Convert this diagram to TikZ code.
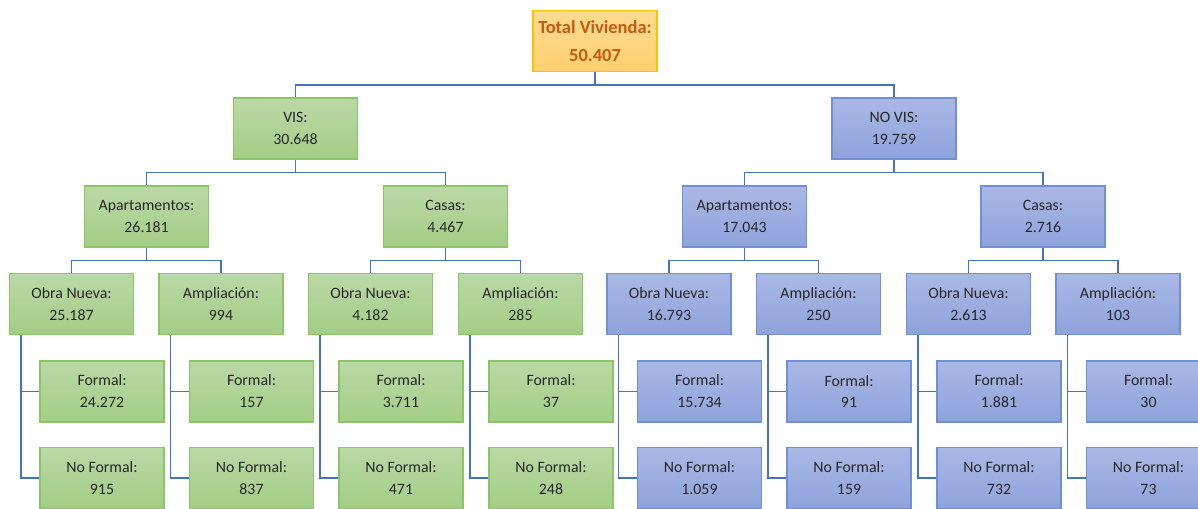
\documentclass[tikz,border=0pt]{standalone}
\usepackage{fontspec}
\setmainfont{Carlito}
\usetikzlibrary{positioning,calc}
\definecolor{greentop}{RGB}{186,217,166}
\definecolor{greenbot}{RGB}{163,206,133}
\definecolor{greenline}{RGB}{140,196,104}
\definecolor{bluetop}{RGB}{170,184,229}
\definecolor{bluebot}{RGB}{142,163,220}
\definecolor{blueline}{RGB}{112,143,212}
\definecolor{orangetop}{RGB}{255,219,145}
\definecolor{orangebot}{RGB}{255,208,112}
\definecolor{orangeline}{RGB}{255,192,0}
\definecolor{totaltext}{RGB}{197,90,17}
\definecolor{connblue}{RGB}{68,114,196}
\tikzset{
  box/.style={draw, minimum width=2.48cm, minimum height=1.22cm, inner sep=1pt,
    align=center, text=black!85, font=\fontsize{9}{12.5}\selectfont, line width=0.6pt},
  visbox/.style={box, draw=greenline, top color=greentop, bottom color=greenbot},
  novisbox/.style={box, draw=blueline, top color=bluetop, bottom color=bluebot},
  totbox/.style={box, draw=orangeline, top color=orangetop, bottom color=orangebot,
    text=totaltext, font=\bfseries\fontsize{10.5}{16}\selectfont},
  conn/.style={draw=connblue, line width=1.1pt}
}
\begin{document}
\begin{tikzpicture}[x=0.02cm,y=-0.02cm]
        \useasboundingbox (0,0) rectangle (1198,508);

        % top
        \node [totbox] (tot) at (595,41) {Total Vivienda:\\50.407};
        \node [visbox] (vis) at (295.5,128.5) {VIS:\\30.648};
        \node [novisbox] (novis) at (894,128.5) {NO VIS:\\19.759};

        % VIS
        \node [visbox] (vapt) at (146.5,216.5) {Apartamentos:\\26.181};
        \node [visbox] (vcas) at (445.5,216.5) {Casas:\\4.467};
        \node [visbox] (vapton) at (71.5,304) {Obra Nueva:\\25.187};
        \node [visbox] (vaptam) at (221,304) {Ampliación:\\994};
        \node [visbox] (vcason) at (370.5,304) {Obra Nueva:\\4.182};
        \node [visbox] (vcasam) at (520.5,304) {Ampliación:\\285};
        \node [visbox] (vaptonf) at (102,391.5) {Formal:\\24.272};
        \node [visbox] (vaptonnf) at (102,478) {No Formal:\\915};
        \node [visbox] (vaptamf) at (251.5,391.5) {Formal:\\157};
        \node [visbox] (vaptamnf) at (251.5,478) {No Formal:\\837};
        \node [visbox] (vcasonf) at (401,391.5) {Formal:\\3.711};
        \node [visbox] (vcasonnf) at (401,478) {No Formal:\\471};
        \node [visbox] (vcasamf) at (551,391.5) {Formal:\\37};
        \node [visbox] (vcasamnf) at (551,478) {No Formal:\\248};

        % NO VIS
        \node [novisbox] (napt) at (744.5,216.5) {Apartamentos:\\17.043};
        \node [novisbox] (ncas) at (1043,216.5) {Casas:\\2.716};
        \node [novisbox] (napton) at (669,304) {Obra Nueva:\\16.793};
        \node [novisbox] (naptam) at (818.5,304) {Ampliación:\\250};
        \node [novisbox] (ncason) at (968.5,304) {Obra Nueva:\\2.613};
        \node [novisbox] (ncasam) at (1118,304) {Ampliación:\\103};
        \node [novisbox] (naptonf) at (699.5,391.5) {Formal:\\15.734};
        \node [novisbox] (naptonnf) at (699.5,478) {No Formal:\\1.059};
        \node [novisbox] (naptamf) at (849,391.5) {Formal:\\91};
        \node [novisbox] (naptamnf) at (849,478) {No Formal:\\159};
        \node [novisbox] (ncasonf) at (999,391.5) {Formal:\\1.881};
        \node [novisbox] (ncasonnf) at (999,478) {No Formal:\\732};
        \node [novisbox] (ncasamf) at (1148.5,391.5) {Formal:\\30};
        \node [novisbox] (ncasamnf) at (1148.5,478) {No Formal:\\73};

        % connectors
        \draw [conn] (tot.south) -- ++(0,13) -| (vis.north);
        \draw [conn] (tot.south) -- ++(0,13) -| (novis.north);
        \draw [conn] (vis.south) -- ++(0,13) -| (vapt.north);
        \draw [conn] (vis.south) -- ++(0,13) -| (vcas.north);
        \draw [conn] (novis.south) -- ++(0,13) -| (napt.north);
        \draw [conn] (novis.south) -- ++(0,13) -| (ncas.north);
        \draw [conn] (vapt.south) -- ++(0,13) -| (vapton.north);
        \draw [conn] (vapt.south) -- ++(0,13) -| (vaptam.north);
        \draw [conn] (vcas.south) -- ++(0,13) -| (vcason.north);
        \draw [conn] (vcas.south) -- ++(0,13) -| (vcasam.north);
        \draw [conn] (napt.south) -- ++(0,13) -| (napton.north);
        \draw [conn] (napt.south) -- ++(0,13) -| (naptam.north);
        \draw [conn] (ncas.south) -- ++(0,13) -| (ncason.north);
        \draw [conn] (ncas.south) -- ++(0,13) -| (ncasam.north);

        \draw [conn] ($(vapton.south west)+(12,0)$) |- (vaptonf.west);
        \draw [conn] ($(vapton.south west)+(12,0)$) |- (vaptonnf.west);
        \draw [conn] ($(vaptam.south west)+(12,0)$) |- (vaptamf.west);
        \draw [conn] ($(vaptam.south west)+(12,0)$) |- (vaptamnf.west);
        \draw [conn] ($(vcason.south west)+(12,0)$) |- (vcasonf.west);
        \draw [conn] ($(vcason.south west)+(12,0)$) |- (vcasonnf.west);
        \draw [conn] ($(vcasam.south west)+(12,0)$) |- (vcasamf.west);
        \draw [conn] ($(vcasam.south west)+(12,0)$) |- (vcasamnf.west);
        \draw [conn] ($(napton.south west)+(12,0)$) |- (naptonf.west);
        \draw [conn] ($(napton.south west)+(12,0)$) |- (naptonnf.west);
        \draw [conn] ($(naptam.south west)+(12,0)$) |- (naptamf.west);
        \draw [conn] ($(naptam.south west)+(12,0)$) |- (naptamnf.west);
        \draw [conn] ($(ncason.south west)+(12,0)$) |- (ncasonf.west);
        \draw [conn] ($(ncason.south west)+(12,0)$) |- (ncasonnf.west);
        \draw [conn] ($(ncasam.south west)+(12,0)$) |- (ncasamf.west);
        \draw [conn] ($(ncasam.south west)+(12,0)$) |- (ncasamnf.west);
\end{tikzpicture}
\end{document}
